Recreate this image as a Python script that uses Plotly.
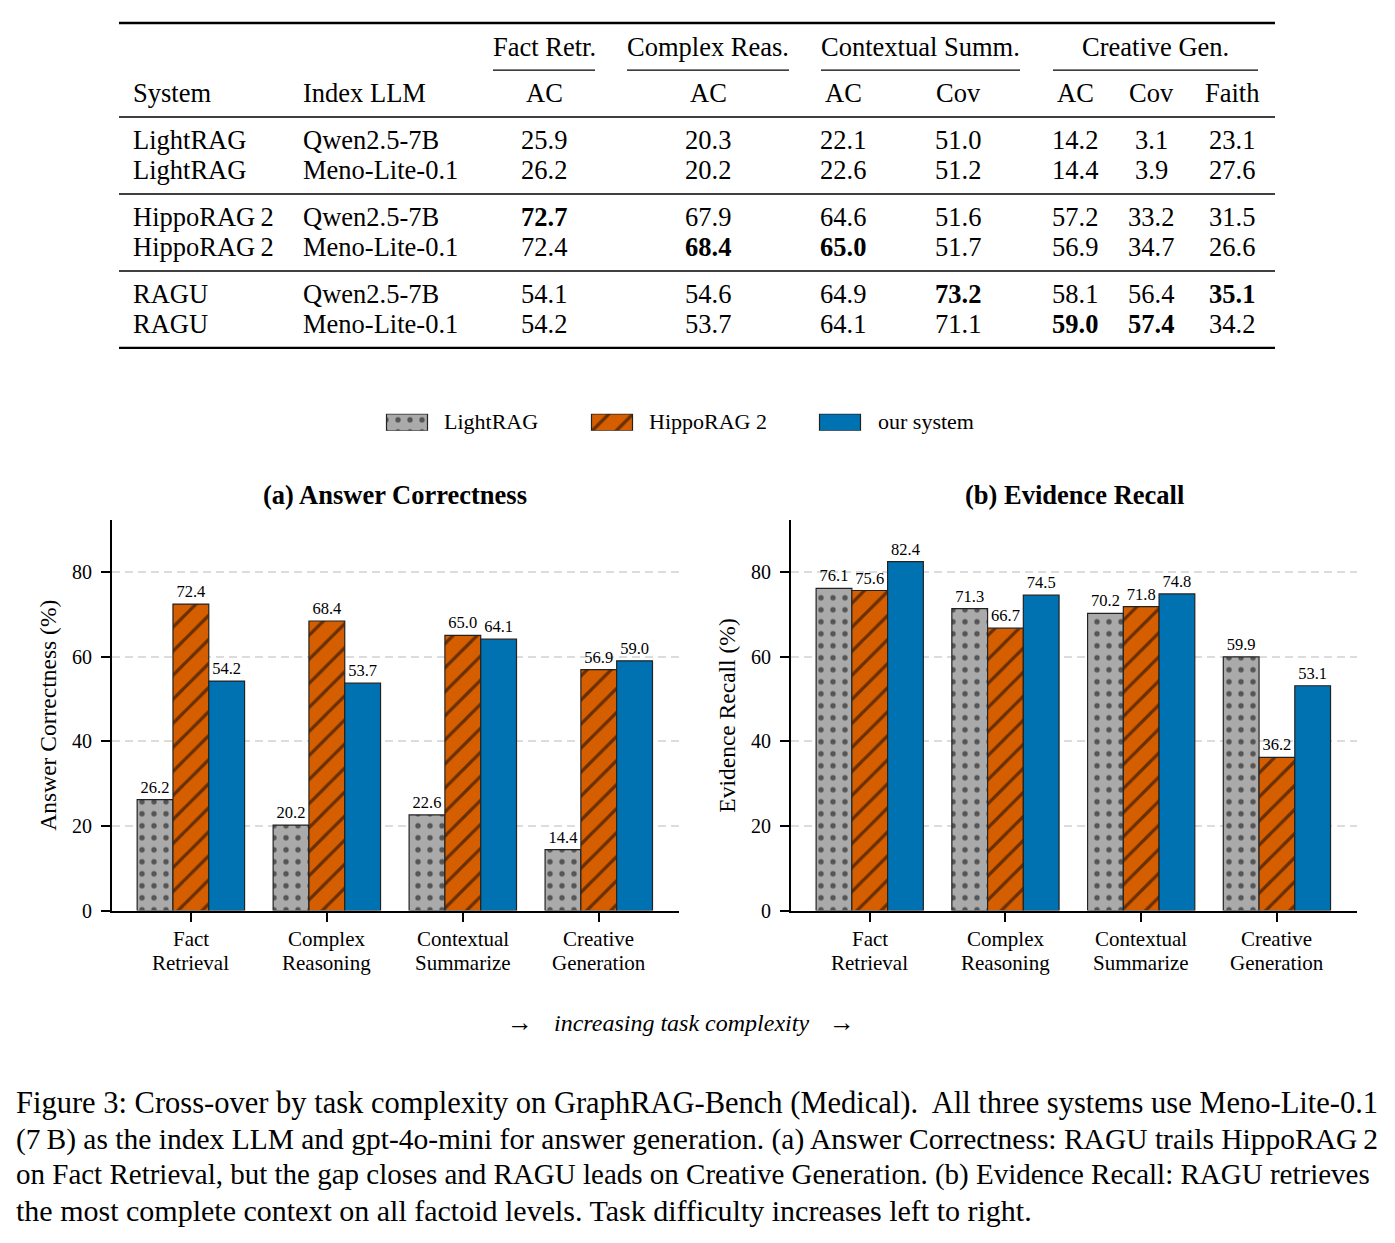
import plotly.graph_objects as go

# page body has an 8px margin in the browser; figure sized to fit inside it
OFF = 8
W, H = 1395 - 2 * OFF, 1243 - 2 * OFF
YS = 1.0085  # small vertical correction observed in the rendered page
FONT = "Liberation Serif"

# ---------------- data ----------------
categories = ["Fact<br>Retrieval", "Complex<br>Reasoning", "Contextual<br>Summarize", "Creative<br>Generation"]
series_names = ["LightRAG", "HippoRAG 2", "our system"]
ac_lightrag = [26.2, 20.2, 22.6, 14.4]
ac_hippo = [72.4, 68.4, 65.0, 56.9]
ac_ours = [54.2, 53.7, 64.1, 59.0]
er_lightrag = [76.1, 71.3, 70.2, 59.9]
er_hippo = [75.6, 66.7, 71.8, 36.2]
er_ours = [82.4, 74.5, 74.8, 53.1]
y_ticks = [0, 20, 40, 60, 80]

tbl_systems = ["LightRAG", "LightRAG", "HippoRAG\u20092", "HippoRAG\u20092", "RAGU", "RAGU"]
tbl_llms = ["Qwen2.5-7B", "Meno-Lite-0.1", "Qwen2.5-7B", "Meno-Lite-0.1", "Qwen2.5-7B", "Meno-Lite-0.1"]
tbl_groups = ["Fact Retr.", "Complex Reas.", "Contextual Summ.", "Creative Gen."]
tbl_metrics = ["AC", "AC", "AC", "Cov", "AC", "Cov", "Faith"]
fact_ac = [25.9, 26.2, 72.7, 72.4, 54.1, 54.2]
complex_ac = [20.3, 20.2, 67.9, 68.4, 54.6, 53.7]
ctx_ac = [22.1, 22.6, 64.6, 65.0, 64.9, 64.1]
ctx_cov = [51.0, 51.2, 51.6, 51.7, 73.2, 71.1]
cre_ac = [14.2, 14.4, 57.2, 56.9, 58.1, 59.0]
cre_cov = [3.1, 3.9, 33.2, 34.7, 56.4, 57.4]
cre_faith = [23.1, 27.6, 31.5, 26.6, 35.1, 34.2]

caption_lines = [
    "Figure 3: Cross-over by task complexity on GraphRAG-Bench (Medical).  All three systems use Meno-Lite-0.1",
    "(7\u2009B) as the index LLM and gpt-4o-mini for answer generation. (a) Answer Correctness: RAGU trails HippoRAG\u20092",
    "on Fact Retrieval, but the gap closes and RAGU leads on Creative Generation. (b) Evidence Recall: RAGU retrieves",
    "the most complete context on all factoid levels. Task difficulty increases left to right.",
]
caption_sizes = [30.5, 29.5, 29.0, 30.0]

# ---------------- helpers (reference-pixel -> paper) ----------------
def px(x):
    return (x - OFF) / W

def py(y):
    return 1 - (y * YS - OFF) / H

styles = [
    dict(color="#aaaaaa", pattern=dict(shape=".", fgcolor="black", bgcolor="#aaaaaa", size=12, solidity=0.16, fillmode="overlay")),
    dict(color="#d55e00", pattern=dict(shape="/", fgcolor="black", bgcolor="#d55e00", size=17, solidity=0.19, fillmode="overlay")),
    dict(color="#0072b2"),
]
edge = dict(color="#222222", width=1.2)

fig = go.Figure()

panels = [
    ("x", "y", [ac_lightrag, ac_hippo, ac_ours]),
    ("x2", "y2", [er_lightrag, er_hippo, er_ours]),
]
for pi, (xa, ya, vals) in enumerate(panels):
    for si, v in enumerate(vals):
        fig.add_trace(go.Bar(
            x=categories, y=v, name=series_names[si],
            xaxis=xa, yaxis=ya,
            marker=dict(line=edge, **styles[si]),
            text=[f"{t:.1f}" for t in v], textposition="outside",
            textfont=dict(family=FONT, size=16.5, color="black"),
            constraintext="none", cliponaxis=False,
            showlegend=False,
        ))

# manual legend swatches (layout positions in reference pixels)
legend_swatch_centers = [407, 612, 840]
legend_text_left = [445, 650, 879]
for si in range(3):
    fig.add_trace(go.Bar(
        x=[legend_swatch_centers[si]], y=[1], width=[41], offset=-20.5,
        xaxis="x3", yaxis="y3", marker=dict(line=edge, **styles[si]),
        showlegend=False, hoverinfo="skip",
    ))

yrange = [0, 92.3]
xrange_ = [-0.58, 3.59]
axis_common = dict(showline=True, linecolor="black", linewidth=2.2, ticks="outside",
                   ticklen=9, tickwidth=2, tickcolor="black", showticklabels=False)
yaxis_common = dict(range=yrange, tickvals=y_ticks, showgrid=True, gridcolor="#dcdcdc",
                    griddash="8px,5px", gridwidth=1.5, zeroline=False, showline=True,
                    linecolor="black", linewidth=2.2, ticks="outside", ticklen=9,
                    tickwidth=2, tickcolor="black", ticklabelstandoff=5,
                    tickfont=dict(family=FONT, size=20, color="black"))

fig.update_layout(
    width=W, height=H, margin=dict(l=0, r=0, t=0, b=0),
    paper_bgcolor="white", plot_bgcolor="rgba(0,0,0,0)",
    barmode="group", bargap=0.21, bargroupgap=0,
    font=dict(family=FONT, color="black"),
    showlegend=False,
    xaxis=dict(domain=[px(112), px(679)], range=xrange_, anchor="y", **axis_common),
    xaxis2=dict(domain=[px(791), px(1357)], range=xrange_, anchor="y2", **axis_common),
    yaxis=dict(domain=[py(911), py(520)], anchor="x", **yaxis_common),
    yaxis2=dict(domain=[py(911), py(520)], anchor="x2", **yaxis_common),
    xaxis3=dict(domain=[0, 1], range=[OFF, OFF + W], visible=False, fixedrange=True),
    yaxis3=dict(domain=[py(431), py(414)], range=[0, 1], visible=False, fixedrange=True, anchor="x3"),
)

ann = []
shapes = []

def note(x, y, text, size, anchor="center", angle=0):
    ann.append(dict(x=px(x), y=py(y), text=text, showarrow=False, xref="paper", yref="paper",
                    xanchor=anchor, yanchor="middle", textangle=angle,
                    font=dict(family=FONT, size=size, color="black")))

# category tick labels (two lines each, matplotlib-like line spacing)
for xa in ["x", "x2"]:
    for cat in categories:
        for li, part in enumerate(cat.split("<br>")):
            ann.append(dict(x=cat, xref=xa, y=py(939 + li * 24), yref="paper", text=part,
                            showarrow=False, xanchor="center", yanchor="middle",
                            font=dict(family=FONT, size=21, color="black")))

# legend labels
for si in range(3):
    note(legend_text_left[si] - 3, 422, series_names[si], 22, "left")

# panel titles and y-axis titles
note(395, 495, "<b>(a) Answer Correctness</b>", 26.5)
note(1074, 495, "<b>(b) Evidence Recall</b>", 26.5)
note(48, 716, "Answer Correctness (%)", 23.5, angle=-90)
note(727, 716, "Evidence Recall (%)", 23.5, angle=-90)

# complexity arrow text
note(520, 1023, "\u2192", 26)
note(842, 1023, "\u2192", 26)
note(681, 1023, "<i>increasing task complexity</i>", 24)

# caption
for i, line in enumerate(caption_lines):
    note(14, 1104 + i * 35.7, line, caption_sizes[i], "left")

# ---------------- table ----------------
TF = 26.5

def hline(x0, x1, y, w):
    shapes.append(dict(type="line", xref="paper", yref="paper", x0=px(x0), x1=px(x1),
                       y0=py(y), y1=py(y), line=dict(color="black", width=w)))

hline(119, 1275, 23, 2.4)
hline(119, 1275, 117, 1.5)
hline(119, 1275, 194, 1.5)
hline(119, 1275, 271, 1.5)
hline(119, 1275, 348, 2.4)

group_centers = [544, 708, 920, 1155]
group_spans = [(493, 595), (627, 789), (821, 1020), (1053, 1258)]
for g, c, (a, b) in zip(tbl_groups, group_centers, group_spans):
    note(c, 47, g, TF)
    hline(a, b, 70, 1.2)

note(131, 93, "System", TF, "left")
note(301, 93, "Index LLM", TF, "left")
col_centers = [544, 708, 843, 958, 1075, 1151, 1232]
for m, c in zip(tbl_metrics, col_centers):
    note(c, 93, m, TF)

row_y = [140, 170, 217, 247, 294, 324]
cols = [fact_ac, complex_ac, ctx_ac, ctx_cov, cre_ac, cre_cov, cre_faith]
for r, y in enumerate(row_y):
    note(131, y, tbl_systems[r], TF, "left")
    note(301, y, tbl_llms[r], TF, "left")
    for col, c in zip(cols, col_centers):
        v = f"{col[r]:.1f}"
        note(c, y, f"<b>{v}</b>" if col[r] == max(col) else v, TF)

fig.update_layout(annotations=ann, shapes=shapes)
fig.write_html("out.html")
